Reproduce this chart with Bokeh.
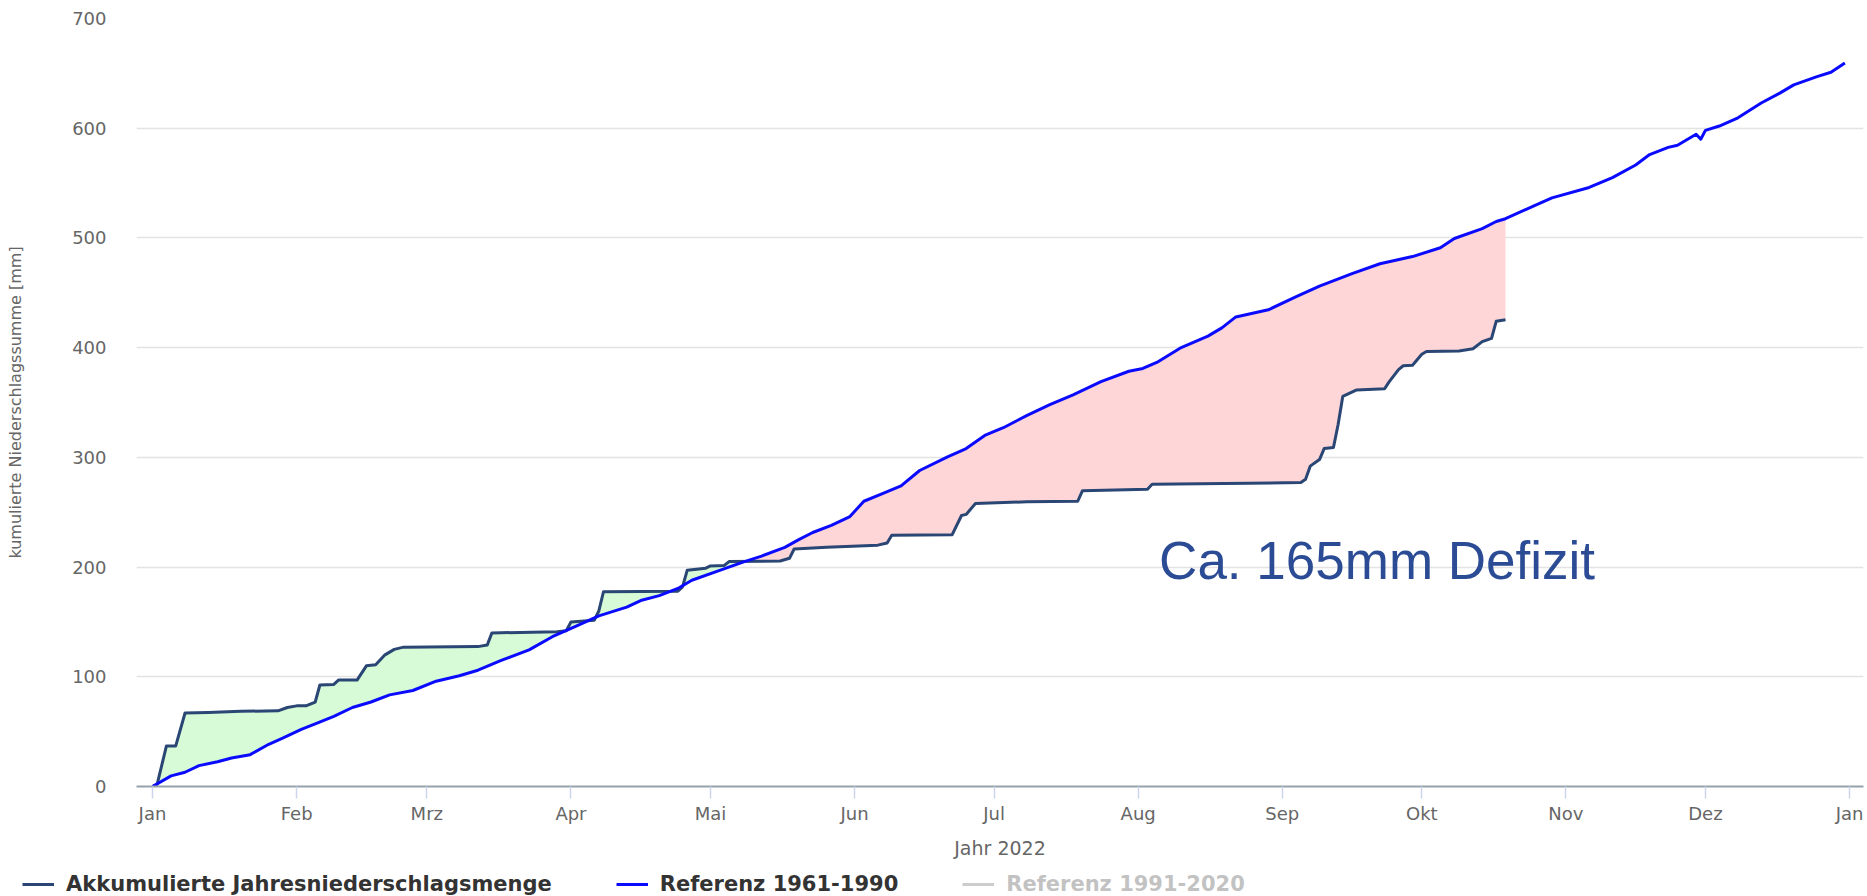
import numpy as np
import pandas as pd
from bokeh.plotting import figure
from bokeh.layouts import column
from bokeh.models import (ColumnDataSource, Range1d, FixedTicker, Legend,
                          LegendItem, Label)
from bokeh.embed import file_html
from bokeh.resources import INLINE

# ---------------- data ----------------
obs_dates = ["2022-01-01", "2022-01-02", "2022-01-04", "2022-01-06", "2022-01-08",
             "2022-01-13", "2022-01-20", "2022-01-28", "2022-01-30", "2022-02-01",
             "2022-02-03", "2022-02-05", "2022-02-06", "2022-02-09", "2022-02-10",
             "2022-02-14", "2022-02-16", "2022-02-18", "2022-02-20", "2022-02-22",
             "2022-02-24", "2022-03-12", "2022-03-14", "2022-03-15", "2022-03-29",
             "2022-03-31", "2022-04-01", "2022-04-06", "2022-04-07", "2022-04-08",
             "2022-04-24", "2022-04-25", "2022-04-26", "2022-04-30", "2022-05-01",
             "2022-05-04", "2022-05-05", "2022-05-16", "2022-05-18", "2022-05-19",
             "2022-05-26", "2022-06-06", "2022-06-08", "2022-06-09", "2022-06-22",
             "2022-06-24", "2022-06-25", "2022-06-27", "2022-07-08", "2022-07-19",
             "2022-07-20", "2022-08-03", "2022-08-04", "2022-09-05", "2022-09-06",
             "2022-09-07", "2022-09-09", "2022-09-10", "2022-09-12", "2022-09-13",
             "2022-09-14", "2022-09-17", "2022-09-23", "2022-09-24", "2022-09-26",
             "2022-09-27", "2022-09-29", "2022-10-01", "2022-10-02", "2022-10-09",
             "2022-10-12", "2022-10-14", "2022-10-16", "2022-10-17", "2022-10-19"]
obs_mm = [0, 2, 37, 37, 67,
          67.5, 68.5, 69, 72, 73.5,
          73.5, 77, 92.5, 93, 97,
          97, 110, 111, 120, 125,
          127, 127.5, 129, 140, 141,
          142, 150, 151.5, 160, 177.5,
          178, 182, 197, 199, 201,
          201.5, 205, 205.5, 208, 216.5,
          218, 220, 222, 229, 229.5,
          247, 248, 258, 259.5, 260,
          269.5, 271, 275.5, 277, 280,
          292, 298, 308, 309, 330,
          355.5, 361.5, 362.5, 369, 380,
          383.5, 384, 394, 396.5, 397,
          399, 405.5, 408.5, 424, 425.5]

ref_dates = ["2022-01-01", "2022-01-05", "2022-01-08", "2022-01-11", "2022-01-15",
             "2022-01-18", "2022-01-22", "2022-01-26", "2022-01-29", "2022-02-02",
             "2022-02-05", "2022-02-09", "2022-02-13", "2022-02-17", "2022-02-21",
             "2022-02-26", "2022-03-03", "2022-03-08", "2022-03-12", "2022-03-17",
             "2022-03-23", "2022-03-28", "2022-04-02", "2022-04-07", "2022-04-13",
             "2022-04-16", "2022-04-20", "2022-04-24", "2022-04-27", "2022-05-03",
             "2022-05-08", "2022-05-12", "2022-05-17", "2022-05-20", "2022-05-23",
             "2022-05-27", "2022-05-31", "2022-06-03", "2022-06-07", "2022-06-11",
             "2022-06-15", "2022-06-21", "2022-06-25", "2022-06-29", "2022-07-03",
             "2022-07-08", "2022-07-13", "2022-07-18", "2022-07-24", "2022-07-30",
             "2022-08-02", "2022-08-05", "2022-08-10", "2022-08-16", "2022-08-19",
             "2022-08-22", "2022-08-29", "2022-09-04", "2022-09-09", "2022-09-16",
             "2022-09-22", "2022-09-29", "2022-10-05", "2022-10-08", "2022-10-14",
             "2022-10-17", "2022-10-19", "2022-10-25", "2022-10-29", "2022-11-06",
             "2022-11-11", "2022-11-16", "2022-11-19", "2022-11-23", "2022-11-25",
             "2022-11-29", "2022-11-30", "2022-12-01", "2022-12-04", "2022-12-08",
             "2022-12-13", "2022-12-17", "2022-12-20", "2022-12-25", "2022-12-28",
             "2022-12-31"]
ref_mm = [0, 9.7, 13, 19, 22.5,
          26, 29, 38.5, 44, 52,
          57, 64, 72, 77, 83.5,
          87.5, 96, 101, 106, 115,
          124.5, 136.5, 146, 155.5, 163.5,
          169.5, 174, 180.5, 188, 197,
          204.5, 210, 218, 225, 231.5,
          238, 246, 260, 267, 274,
          288, 300.5, 308, 320, 327,
          338, 348, 357, 369, 378.5,
          381, 386.5, 399.5, 410.5, 418,
          428, 434.5, 446.5, 456, 467.5,
          476.5, 483, 491, 499.5, 508.5,
          515, 517.5, 529, 536.5, 546,
          555, 566.5, 576, 582.5, 584.5,
          594.5, 590, 598, 602, 609.5,
          623, 632, 639.5, 647, 651,
          659.5]

# hidden (deactivated) series in the original legend: no values shown
ref2_dates = []
ref2_mm = []

month_ticks = ["2022-01-01", "2022-02-01", "2022-03-01", "2022-04-01", "2022-05-01",
               "2022-06-01", "2022-07-01", "2022-08-01", "2022-09-01", "2022-10-01",
               "2022-11-01", "2022-12-01", "2023-01-01"]
month_labels = ["Jan", "Feb", "Mrz", "Apr", "Mai", "Jun", "Jul", "Aug", "Sep",
                "Okt", "Nov", "Dez", "Jan"]
y_ticks = [0, 100, 200, 300, 400, 500, 600, 700]

series_names = ["Akkumulierte Jahresniederschlagsmenge", "Referenz 1961-1990",
                "Referenz 1991-2020"]
series_colors = ["#2a4674", "#0a0aff", "#555555"]
annotation_text = "Ca. 165mm Defizit"


def to_ms(dates):
    return (pd.to_datetime(pd.Series(dates, dtype="object")).values
            .astype("datetime64[ms]").astype(np.int64).astype(float))


t_obs = to_ms(obs_dates)
t_ref = to_ms(ref_dates)
o_vals = np.asarray(obs_mm, dtype=float)
r_vals = np.asarray(ref_mm, dtype=float)

# band between the two curves (computed from the two series above)
grid = np.union1d(np.linspace(t_obs[0], t_obs[-1], 3000),
                  np.union1d(t_obs, t_ref[t_ref <= t_obs[-1]]))
o_g = np.interp(grid, t_obs, o_vals)
r_g = np.interp(grid, t_ref, r_vals)
band = ColumnDataSource(dict(x=grid, r=r_g,
                             hi=np.maximum(o_g, r_g), lo=np.minimum(o_g, r_g)))

obs_src = ColumnDataSource(dict(x=t_obs, y=o_vals))
ref_src = ColumnDataSource(dict(x=t_ref, y=r_vals))
ref2_src = ColumnDataSource(dict(x=list(ref2_dates), y=list(ref2_mm)))

# ---------------- main figure ----------------
day_ms = 86400000.0
jan1 = to_ms(["2022-01-01"])[0]
x_start = jan1 - 3.44 * day_ms
x_end = jan1 + 368.0 * day_ms

p = figure(width=1867, height=861, x_axis_type="datetime",
           x_range=Range1d(x_start, x_end), y_range=Range1d(0, 700),
           output_backend="svg", toolbar_location=None,
           min_border_left=136, min_border_right=4, min_border_top=18,
           min_border_bottom=72)
p.outline_line_color = None
p.background_fill_color = "white"
p.border_fill_color = "white"

p.varea(x="x", y1="r", y2="hi", source=band, fill_color="#d6fbd6", fill_alpha=1.0)
p.varea(x="x", y1="lo", y2="r", source=band, fill_color="#ffd6d8", fill_alpha=1.0)

r_obs = p.line(x="x", y="y", source=obs_src, line_color=series_colors[0],
               line_width=3, line_join="round")
r_ref = p.line(x="x", y="y", source=ref_src, line_color=series_colors[1],
               line_width=3, line_join="round")
r_ref2 = p.line(x="x", y="y", source=ref2_src, line_color=series_colors[2],
                line_width=3, visible=False)

# axes
tick_ms = [int(v) for v in to_ms(month_ticks)]
xa = p.xaxis[0]
xa.ticker = FixedTicker(ticks=tick_ms)
xa.major_label_overrides = {t: lab for t, lab in zip(tick_ms, month_labels)}
xa.axis_label = "Jahr 2022"
xa.axis_label_text_font = "DejaVu Sans"
xa.axis_label_text_font_size = "19px"
xa.axis_label_text_font_style = "normal"
xa.axis_label_text_color = "#666666"
xa.axis_label_standoff = 10
xa.major_label_text_font = "DejaVu Sans"
xa.major_label_text_font_size = "18px"
xa.major_label_text_color = "#666666"
xa.major_label_standoff = 4
xa.major_tick_out = 12
xa.major_tick_in = 0
xa.major_tick_line_color = "#ccd6eb"
xa.major_tick_line_width = 1.5
xa.minor_tick_line_color = None
xa.axis_line_color = "#97a1ab"
xa.axis_line_width = 2

ya = p.yaxis[0]
ya.ticker = FixedTicker(ticks=y_ticks)
ya.axis_label = "kumulierte Niederschlagssumme [mm]"
ya.axis_label_text_font = "DejaVu Sans"
ya.axis_label_text_font_size = "16px"
ya.axis_label_text_font_style = "normal"
ya.axis_label_text_color = "#666666"
ya.axis_label_standoff = 44
ya.major_label_text_font = "DejaVu Sans"
ya.major_label_text_font_size = "18px"
ya.major_label_text_color = "#666666"
ya.major_label_standoff = 30
ya.major_tick_out = 0
ya.major_tick_in = 0
ya.minor_tick_line_color = None
ya.axis_line_color = None

p.xgrid.grid_line_color = None
p.ygrid.grid_line_color = "#e3e3e3"
p.ygrid.grid_line_width = 1.5

# annotation
p.add_layout(Label(x=jan1 + 216.5 * day_ms, y=206, text=annotation_text,
                   text_font="Liberation Sans", text_font_size="53px",
                   text_color="#2b4c95", text_baseline="alphabetic"))

# ---------------- legend strip below the chart ----------------
lg = figure(width=1867, height=35, x_range=Range1d(0, 1), y_range=Range1d(0, 1),
            output_backend="svg", toolbar_location=None,
            min_border_left=0, min_border_right=0, min_border_top=0,
            min_border_bottom=0, x_axis_location=None, y_axis_location=None)
if "frame_align" in lg.properties():
    lg.frame_align = False
    p.frame_align = False
lg.outline_line_color = None
lg.xgrid.grid_line_color = None
lg.ygrid.grid_line_color = None
# legend proxies share the series' sources; their data lie outside this strip's range
proxy_sources = [obs_src, ref_src, ref_src]
lg_renderers = []
for i, (c, s) in enumerate(zip(series_colors, proxy_sources)):
    lr = lg.line(x="x", y="y", source=s, line_color=c, line_width=3)
    if i == 2:
        lr.visible = False
    lg_renderers.append(lr)

legend = Legend(items=[LegendItem(label=n, renderers=[r])
                       for n, r in zip(series_names, lg_renderers)],
                orientation="horizontal", location=(22, 0),
                click_policy="hide", padding=0, margin=0, spacing=64,
                glyph_width=32, glyph_height=20, label_standoff=12,
                label_height=20,
                label_text_font="DejaVu Sans", label_text_font_style="bold",
                label_text_font_size="21px", label_text_color="#333333",
                border_line_color=None, background_fill_alpha=0,
                inactive_fill_color="white", inactive_fill_alpha=0.7)
lg.add_layout(legend)

layout = column(p, lg, spacing=0)
open("out.html", "w").write(file_html(layout, INLINE))
